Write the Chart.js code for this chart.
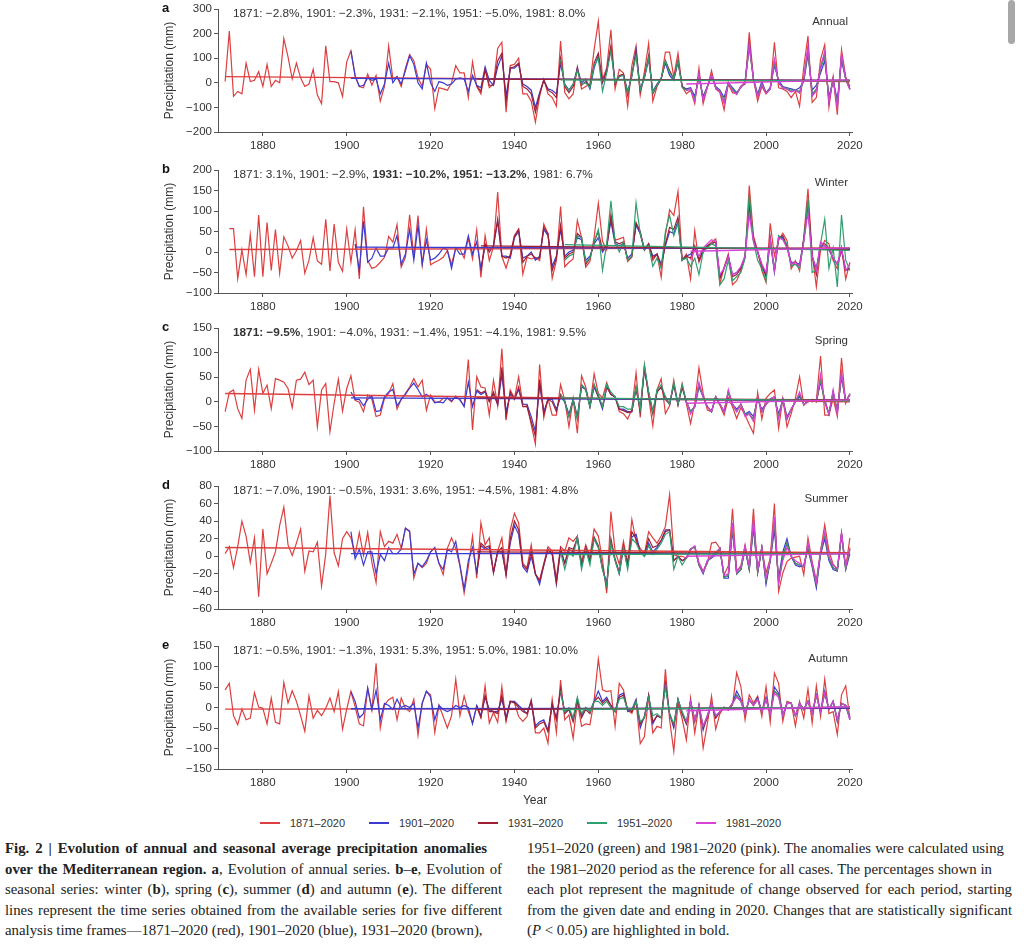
<!DOCTYPE html>
<html>
<head>
<meta charset="utf-8">
<script src="https://cdn.jsdelivr.net/npm/chart.js@4.4.1/dist/chart.umd.min.js"></script>
<style>
  body { margin: 0; background: #fff; }
  #page { position: relative; width: 1024px; height: 950px; overflow: hidden; background: #fff; font-family: "Liberation Sans", Arial, sans-serif; color: #333; }
  canvas { position: absolute; }
  .letter { position: absolute; font-weight: bold; font-size: 13px; line-height: 13px; color: #111; }
  .note { position: absolute; font-size: 11.8px; line-height: 14px; white-space: nowrap; color: #333; }
  .season { position: absolute; font-size: 11.5px; line-height: 14px; color: #333; text-align: right; }
  .leg { position: absolute; top: 816px; font-size: 11px; line-height: 14px; white-space: nowrap; color: #333; }
  .leg span.swatch { display: inline-block; width: 20px; height: 1.5px; vertical-align: middle; margin-right: 10px; position: relative; top: -1px; }
  .cap { position: absolute; font-family: "Liberation Serif", "Times New Roman", serif; font-size: 14.8px; line-height: 20.5px; color: #222; }
  .cap div { white-space: nowrap; text-align: justify; text-align-last: justify; }
  .cap div.last { text-align-last: left; }
  #scroll { position: absolute; left: 1008px; top: 0; width: 7px; height: 44px; border-radius: 4px; background: #a8a8a8; }
</style>
</head>
<body>
<div id="page">
  <div id="scroll"></div>
  <div id="legend"></div>
  <div class="cap" style="left:5px; top:838px;">
    <div style="width:482px"><b>Fig. 2 | Evolution of annual and seasonal average precipitation anomalies</b></div>
    <div style="width:497px"><b>over the Mediterranean region.</b> <b>a</b>, Evolution of annual series. <b>b</b>–<b>e</b>, Evolution of</div>
    <div style="width:497px">seasonal series: winter (<b>b</b>), spring (<b>c</b>), summer (<b>d</b>) and autumn (<b>e</b>). The different</div>
    <div style="width:497px">lines represent the time series obtained from the available series for five different</div>
    <div class="last">analysis time frames—1871–2020 (red), 1901–2020 (blue), 1931–2020 (brown),</div>
  </div>
  <div class="cap" style="left:527px; top:838px;">
    <div style="width:477px">1951–2020 (green) and 1981–2020 (pink). The anomalies were calculated using</div>
    <div style="width:465px">the 1981–2020 period as the reference for all cases. The percentages shown in</div>
    <div style="width:485px">each plot represent the magnitude of change observed for each period, starting</div>
    <div style="width:485px">from the given date and ending in 2020. Changes that are statistically significant</div>
    <div class="last">(<i>P</i> &lt; 0.05) are highlighted in bold.</div>
  </div>
</div>
<script>
// periods and legend
const periods = ['1871', '1901', '1931', '1951', '1981'];
const seriesNames = ['1871–2020', '1901–2020', '1931–2020', '1951–2020', '1981–2020'];
const seriesColors = ['#dd3f3f', '#3b3bd1', '#9e1f32', '#2e9f6e', '#d942d9'];
const yearTicks = [1880, 1900, 1920, 1940, 1960, 1980, 2000, 2020];
const firstYears = [1871, 1901, 1931, 1951, 1981];
const winterFirstYears = [1872, 1902, 1932, 1952, 1982];

// a: annual
const annualTicks = [-200, -100, 0, 100, 200, 300];
const annualRed = [
    5, 210, -55, -35, -45, 80, 5, 10, 45, -15,
    75, -15, 10, 0, 180, 105, 15, 80, 20, -15,
    -5, 55, -50, -85, 150, 5, 5, 0, -55, 85,
    130, 25, -15, -20, 35, -10, 30, -75, -15, 150,
    15, 25, -15, 60, 115, 90, 20, -15, 75, 55,
    -105, -20, -25, -30, 0, 70, 40, 40, -60, 85,
    -15, -45, 55, -20, -5, 140, 165, -120, 70, 75,
    100, -45, -45, -75, -160, -55, 15, -45, -60, -95,
    170, -40, -65, -45, 65, -25, -15, -5, 135, 250,
    15, 60, 215, -25, 55, 40, -95, 70, 150, -50,
    45, 160, -75, -15, 15, 125, 125, 25, 120, -15,
    -45, -30, -85, 60, -85, -20, 50, -25, -40, -110,
    -5, -40, -45, -15, -5, 205, 15, -75, -15, -45,
    -25, 165, -20, -25, -35, -60, -35, -95, 65, 190,
    -80, -60, 95, 155, -100, 25, -130, 135, 25, -15
];
const annualBlue = [
    130, 30, -15, -10, 20, 10, 15, -45, -5, 80,
    0, 25, -5, 50, 110, 75, 0, -25, 80, 0,
    -35, 5, 0, -10, -5, 15, 20, 15, -35, 30,
    -10, -20, 65, 10, -10, 65, 110, -55, 60, 60,
    75, -5, -15, -30, -100, -40, 10, -25, -30, -45,
    80, -5, -30, -5, 60, 0, 15, -25, 60, 110,
    0, 50, 140, 5, 25, 35, -35, 25, 135, -25,
    20, 95, -35, -5, 20, 80, 30, 10, 85, -15,
    -25, -20, -55, 25, -55, -15, 25, -15, -30, -60,
    0, -20, -40, -20, 5, 160, 15, -45, 5, -40,
    -20, 70, 10, -15, -20, -25, -30, -20, 5, 115,
    -30, -10, 40, 90, -55, 10, -70, 90, 15, -25
];
const annualBrown = [
    -12, -35, 55, -10, -10, 90, 120, -80, 60, 65,
    80, -15, -25, -45, -120, -45, 10, -30, -40, -60,
    100, -15, -40, -15, 55, -10, 5, -15, 80, 120,
    5, 45, 150, -5, 30, 35, -50, 35, 120, -35,
    25, 110, -45, -10, 15, 90, 50, 15, 90, -15,
    -30, -25, -70, 35, -70, -15, 30, -20, -35, -80,
    0, -30, -45, -15, 0, 150, 15, -55, -5, -40,
    -25, 90, 0, -20, -25, -35, -30, -40, 15, 140,
    -50, -30, 60, 120, -75, 15, -95, 110, 15, -25
];
const annualGreen = [
    95, -10, -30, -5, 50, -5, 0, -20, 70, 100,
    -35, 40, 130, 0, 25, 30, -40, 30, 110, -30,
    20, 100, -40, -10, 20, 90, 40, 15, 90, -20,
    -30, -25, -65, 30, -65, -15, 30, -20, -35, -75,
    0, -25, -45, -15, 0, 145, 15, -50, -5, -40,
    -25, 85, 0, -20, -25, -30, -30, -35, 10, 130,
    -45, -25, 55, 110, -70, 15, -90, 105, 15, -25
];
const annualPink = [
    -32, -25, -75, 38, -72, -15, 32, -20, -38, -85,
    0, -32, -48, -15, 0, 155, 15, -58, -5, -42,
    -25, 95, 0, -22, -25, -38, -30, -42, 18, 150,
    -55, -32, 65, 128, -80, 18, -105, 118, 15, -28
];
const annualTrendStart = [25, 18, 15, 12, -5];
const annualTrendEnd = [5, 10, 10, 8, 12];
const annualChange = ['−2.8%', '−2.3%', '−2.1%', '−5.0%', '8.0%'];
const annualSig = [false, false, false, false, false];

// b: winter
const winterTicks = [-100, -50, 0, 50, 100, 150, 200];
const winterRed = [
    57, 57, -65, 5, -55, 43, -60, 90, -60,
    72, -45, 55, -52, 37, 15, -15, 3, 28, -52,
    -20, 35, -22, -30, 80, -46, 68, -25, -47, 56,
    -25, 54, -66, 110, -21, -40, -36, -25, -13, 38,
    24, 67, -37, -13, 91, -13, 89, -31, 56, -31,
    -25, -20, -13, 3, -30, 10, 7, -15, 34, -17,
    54, -62, 40, -21, 13, 146, -11, -39, -5, 40,
    56, -54, -13, -17, -13, -21, 68, 44, -64, -21,
    111, -36, -25, -17, 77, 36, -37, -23, 36, 119,
    26, 5, 93, 29, 32, 36, -23, -13, 72, 44,
    5, 20, -21, -5, -62, 42, 103, 89, 148, -20,
    -5, -66, 52, -25, -1, 15, 24, 32, -78, -37,
    -5, -80, -70, -46, -13, 162, 40, 2, -46, -74,
    70, -9, 28, 46, 28, -41, -21, -46, 36, 154,
    -5, -85, 5, 28, 20, -21, -41, 11, -66, -25
];
const winterBlue = [
    20, -45, 75, -25, -15, 10, -10, -10, 10,
    10, 40, -30, -5, 55, -20, 65, -30, 30, -20,
    -15, -5, 10, 5, -40, 10, -5, -5, 40, -5,
    25, -40, 15, 5, 15, 75, -10, -10, -15, 35,
    50, -15, -10, 0, -20, -10, 55, 40, -35, -10,
    55, -10, 0, 5, 35, 30, -20, -10, 20, 35,
    0, 15, 75, 20, 15, 20, -15, -5, 65, 45,
    5, 20, -10, -5, -30, 15, 50, 45, 75, -20,
    -10, -5, 10, -20, 5, 15, 20, 25, -60, -40,
    -10, -55, -50, -40, -10, 110, 30, 0, -30, -55,
    30, -50, 35, 35, 10, -25, -25, -30, 30, 110,
    -10, -40, 15, 15, 5, -15, -30, 5, -45, -40
];
const winterBrown = [
    -45, 20, 0, 15, 80, -10, -15, -10, 38,
    55, -25, -10, -5, -15, -15, 60, 45, -45, -15,
    65, -15, -5, 0, 45, 35, -30, -15, 25, 50,
    5, 15, 85, 25, 20, 25, -20, -10, 70, 50,
    5, 20, -15, -5, -35, 20, 60, 55, 85, -20,
    -10, -15, 15, -20, 5, 15, 20, 25, -65, -40,
    -10, -60, -55, -40, -10, 125, 30, 0, -35, -60,
    35, -45, 35, 40, 15, -30, -25, -35, 30, 125,
    -10, -55, 20, 20, 10, -15, -30, 5, -45, -40
];
const winterGreen = [
    -20, -10, -5, 40, 35, -25, -15, 25, 55,
    -45, 20, 125, 25, 0, 25, -20, -10, 120, 45,
    5, 15, -35, -15, -40, 50, 90, 40, 70, -20,
    -15, -35, -15, -55, 0, 10, 20, 15, -80, -65,
    -20, -70, -60, -50, -15, 140, 25, -20, -40, -70,
    25, -45, 40, 30, 20, -35, -30, -40, 25, 130,
    -50, -45, 20, 80, -40, 10, -85, 90, -20, -45
];
const winterPink = [
    -20, 5, -10, 10, 20, 30, 25, -55, -40,
    -10, -55, -50, -35, -10, 90, 25, 0, -30, -50,
    30, -45, 35, 30, 10, -30, -25, -35, 25, 95,
    -10, -45, 25, 15, 10, -15, -30, 10, -45, -30
];
const winterTrendStart = [6, 12, 15, 18, 2];
const winterTrendEnd = [10, 8, 6, 4, 10];
const winterChange = ['3.1%', '−2.9%', '−10.2%', '−13.2%', '6.7%'];
const winterSig = [false, false, true, true, false];

// c: spring
const springTicks = [-100, -50, 0, 50, 100, 150];
const springRed = [
    -20, 19, 24, -14, -34, 44, 66, -17, 66, 17,
    34, -14, 47, 44, 40, 27, -12, 44, 46, 60,
    35, 44, -51, 24, 37, -61, -3, 46, -19, 27,
    53, 3, -1, -20, 14, 5, -30, -27, 7, 17,
    37, -15, 5, 17, 30, 47, 30, 44, -17, 14,
    0, -1, 7, 7, 0, 12, 3, -8, 86, -57,
    51, 30, 28, -27, 44, -8, 108, -37, 24, 7,
    51, -5, -7, -47, -86, 76, -32, 7, -27, -27,
    35, 3, -51, 7, -64, 53, 30, -8, 57, 17,
    8, 39, 15, 10, -20, -24, -35, -15, 59, -32,
    74, 10, -49, 24, 47, -24, -8, 44, -7, 37,
    -3, -44, -3, 69, 17, -17, -20, 10, -7, -27,
    8, -10, -34, -12, -27, -46, -64, 19, -35, 7,
    17, 24, -54, 7, -51, -24, 7, 51, -7, 3,
    0, 3, 93, -27, -27, 7, -30, 89, -3, 17
];
const springBlue = [
    20, 5, 5, -8, 5, 12, -20, -18, 10, 20,
    25, -8, 5, 15, 28, 38, 25, 10, 15, 10,
    -2, 0, -2, 8, 2, 10, 5, -10, 40, -10,
    22, 15, 20, 2, 15, -5, 55, -20, 15, 5,
    25, -5, -5, -30, -60, 35, -20, 5, 5, -15,
    10, 0, -25, 5, -30, 30, 25, -10, 30, 10,
    -15, 30, 15, 10, -15, -15, -20, -20, 25, -15,
    65, 20, -20, 20, 30, 10, -5, 35, -5, 30,
    0, -20, -10, 30, 10, -10, -20, 10, -5, -20,
    20, -5, -15, -5, -25, -20, -30, 5, -15, -5,
    5, 10, -25, 5, -30, -15, 0, 10, -5, 0,
    5, 0, 40, 5, -25, 20, -20, 50, 0, 15
];
const springBrown = [
    25, 18, 22, 0, 20, -5, 70, -30, 20, 5,
    30, -10, -10, -40, -70, 45, -25, 5, 0, -20,
    15, 0, -30, 5, -35, 35, 25, -10, 35, 10,
    -10, 30, 15, 10, -15, -18, -22, -20, 30, -20,
    70, 15, -25, 20, 30, 5, -5, 35, -5, 30,
    0, -20, -10, 35, 10, -10, -20, 10, -5, -20,
    20, -5, -20, -5, -25, -25, -35, 10, -20, -5,
    5, 10, -30, 5, -35, -15, 0, 15, -5, 0,
    5, 0, 45, 0, -25, 20, -20, 55, 0, 15
];
const springGreen = [
    15, 0, -30, 5, -35, 35, 25, -10, 35, 15,
    -10, 35, 20, 10, -10, -10, -15, -15, 30, -15,
    75, 20, -20, 25, 35, 10, -5, 40, -5, 35,
    0, -20, -10, 35, 10, -10, -20, 10, -5, -20,
    20, -5, -20, -5, -25, -25, -35, 10, -20, -5,
    5, 10, -30, 5, -35, -15, 0, 15, -5, 0,
    5, 0, 45, 0, -25, 20, -20, 55, 0, 15
];
const springPink = [
    0, -25, -10, 40, 10, -10, -20, 10, -5, -20,
    25, -5, -20, -5, -30, -25, -40, 10, -20, -5,
    5, 10, -35, 5, -35, -15, 0, 20, -5, 0,
    5, 0, 55, 0, -25, 25, -25, 60, 0, 15
];
const springTrendStart = [17, 8, 8, 8, -3];
const springTrendEnd = [0, 3, 4, 2, 4];
const springChange = ['−9.5%', '−4.0%', '−1.4%', '−4.1%', '9.5%'];
const springSig = [true, false, false, false, false];

// d: summer
const summerTicks = [-60, -40, -20, 0, 20, 40, 60, 80];
const summerRed = [
    3, 11, -13, 11, 40, 23, -7, 21, -46, 31,
    -20, -8, 5, 35, 56, 13, 1, 15, 31, -17,
    6, 5, 16, -34, 3, 69, 4, -11, 20, 28,
    21, 1, 27, 1, 27, -7, -30, 28, 11, 17,
    15, 25, 9, 32, 29, -25, -8, -13, -8, 5,
    9, -8, -21, 9, 21, 9, -11, -42, -12, 23,
    -25, 38, 13, 21, -19, 6, 21, -19, 30, 49,
    38, -8, -13, 13, -21, -27, -8, 11, 6, -25,
    11, 6, 21, 17, 23, -6, 13, 0, 31, 23,
    -4, -42, 51, 6, -9, 17, -8, 42, 17, 9,
    3, 28, 21, 15, 23, 34, 70, 2, 0, 0,
    -2, 8, 11, -7, -17, -8, 15, 16, 9, -21,
    -11, 54, -17, -11, 13, -13, 54, -19, 9, -19,
    -2, 60, -40, -19, -6, -2, -1, 0, -21, 21,
    -6, -28, 6, 36, 6, -9, -15, 27, -13, 21
];
const summerBlue = [
    28, -3, 8, -10, 5, 5, -20, 2, -5, 10,
    3, 3, 8, 32, 28, -20, -8, -12, -5, 5,
    10, -8, -15, 8, 5, 17, -10, -37, -5, 10,
    -18, 12, 8, 10, -18, 5, 5, -20, 15, 35,
    25, -12, -18, 0, -20, -32, -10, 8, 2, -32,
    8, -8, 8, 5, 22, -12, 10, -5, 20, 10,
    -15, -30, 15, -5, -20, 10, -12, 22, 25, 5,
    0, 15, 5, 10, 18, 30, 30, -5, 0, -5,
    -2, 8, 11, -10, -20, -5, -2, 2, 9, -25,
    -25, 30, -20, -15, 8, -15, 32, -18, 10, -32,
    -5, 30, -25, 5, 20, 0, -10, -12, -10, 8,
    -12, -36, 2, 20, -5, -15, -17, 25, -15, 3
];
const summerBrown = [
    -20, 15, 10, 12, -18, 5, 10, -22, 20, 40,
    30, -10, -15, 5, -20, -28, -10, 8, 3, -30,
    8, -8, 10, 8, 20, -10, 10, -5, 22, 12,
    -12, -35, 20, -3, -18, 12, -10, 28, 20, 5,
    2, 20, 10, 12, 18, 28, 30, -5, 0, -5,
    -2, 8, 11, -10, -18, -6, 0, 3, 9, -24,
    -22, 35, -20, -15, 10, -15, 38, -18, 10, -28,
    -5, 40, -30, 0, 15, 0, -8, -10, -12, 12,
    -10, -32, 4, 25, -2, -13, -16, 25, -14, 8
];
const summerGreen = [
    5, -15, 5, 0, 22, -15, 8, -10, 20, 10,
    -15, -33, 15, -5, -20, 10, -15, 20, 15, 5,
    0, 12, 2, 8, 15, 25, 28, -15, 0, -10,
    -2, 8, 11, -10, -18, -6, 0, 3, 9, -24,
    -22, 35, -20, -15, 10, -15, 38, -18, 10, -28,
    -5, 40, -30, 0, 15, 0, -8, -10, -12, 12,
    -10, -32, 4, 25, -2, -13, -16, 25, -14, 8
];
const summerPink = [
    -2, 8, 12, -8, -18, -5, 0, 5, 9, -22,
    -20, 38, -18, -12, 12, -12, 42, -15, 10, -25,
    -3, 45, -30, -5, 10, 0, -5, -8, -12, 15,
    -8, -30, 6, 28, 0, -10, -14, 27, -12, 10
];
const summerTrendStart = [10, 3, 5, 2, 0];
const summerTrendEnd = [4, 3, 3, 3, 3];
const summerChange = ['−7.0%', '−0.5%', '3.6%', '−4.5%', '4.8%'];
const summerSig = [false, false, false, false, false];

// e: autumn
const autumnTicks = [-150, -100, -50, 0, 50, 100, 150];
const autumnRed = [
    43, 59, -20, -42, -4, -30, -26, 36, 1, -2,
    -40, 23, -36, -40, 61, 11, 41, 15, -20, -58,
    28, -26, -7, -20, -2, 23, -10, 39, -53, -4,
    39, 2, -40, -45, 47, -6, 108, -50, 6, 19,
    25, -30, 23, -2, -10, 20, -68, 11, 39, 31,
    -61, 6, -22, -50, -20, 69, -20, 28, -10, -38,
    2, -24, 53, -38, -12, -36, 51, -34, 15, 11,
    -22, -34, -22, 19, -62, -62, -50, -87, 20, -61,
    67, -30, -18, -75, 15, -46, -40, -42, 17, 118,
    43, 39, 41, -46, 59, 43, -7, -14, 15, -88,
    -71, 28, -62, -46, -50, 93, -30, -107, 11, -28,
    -79, 23, -62, 6, -99, -40, 28, -53, -15, 1,
    -7, 6, 85, 51, -30, 31, 11, 28, -22, 51,
    -36, 84, 59, -34, 15, 11, -45, 15, -26, 45,
    -38, 53, -22, 69, -15, -10, -66, 31, 53, -28
];
const autumnBlue = [
    39, 15, -25, -15, 47, -5, 42, -30, 10, 5,
    -5, 20, 0, 5, 0, 10, -50, 10, 40, 25,
    -30, 5, -5, -10, -5, 5, 0, 5, 0, -40,
    5, -20, 25, -5, -10, -10, 20, -25, 15, 15,
    5, -5, -15, 15, -45, -35, -30, -55, 5, -25,
    40, -10, -5, -30, 20, -20, 0, -10, 15, 40,
    15, 25, 5, -10, 30, 35, -10, -5, 20, -50,
    -20, 30, -40, -20, -25, 60, -15, -50, 20, -15,
    -40, 15, -30, 5, -55, -20, 10, -25, -10, 0,
    -5, 10, 40, 20, -15, 20, 5, 25, -10, 25,
    -15, 50, 35, -20, 10, 10, -20, 10, -5, 15,
    -15, 30, -10, 40, -5, 15, -35, 10, 5, -30
];
const autumnBrown = [
    5, -25, 30, -10, -10, -15, 30, -30, 15, 12,
    0, -10, -15, 15, -50, -40, -35, -60, 10, -30,
    45, -15, -5, -35, 20, -25, -5, -15, 15, 25,
    10, 20, 5, -10, 25, 30, -5, -10, 15, -40,
    -25, 30, -35, -20, -25, 55, -15, -45, 20, -15,
    -40, 15, -35, 5, -50, -25, 10, -25, -10, 0,
    -5, 10, 30, 15, -15, 20, 5, 20, -10, 20,
    -15, 40, 30, -20, 10, 10, -20, 10, -5, 15,
    -15, 30, -10, 35, -5, 15, -30, 10, 5, -25
];
const autumnGreen = [
    40, -10, 0, -25, 25, -15, 0, -10, 15, 15,
    5, 15, 0, -10, 20, 25, -5, -5, 15, -35,
    -25, 25, -20, -15, -25, 50, -15, -40, 20, -10,
    -35, 15, -30, 5, -45, -20, 10, -20, -10, 0,
    -5, 10, 30, 15, -15, 20, 5, 20, -10, 20,
    -15, 40, 30, -20, 10, 10, -20, 10, -5, 15,
    -15, 30, -10, 35, -5, 15, -30, 10, 5, -25
];
const autumnPink = [
    -35, 15, -30, 5, -45, -20, 10, -20, -10, 0,
    -5, 10, 25, 15, -15, 20, 5, 20, -10, 20,
    -15, 35, 25, -20, 10, 10, -20, 10, -5, 15,
    -15, 30, -10, 35, -5, 15, -30, 10, 5, -30
];
const autumnTrendStart = [-4, -3, -5, -5, -8];
const autumnTrendEnd = [-2, -2, 0, 1, 2];
const autumnChange = ['−0.5%', '−1.3%', '5.3%', '5.0%', '10.0%'];
const autumnSig = [false, false, false, false, false];

const panels = [
    { letter: 'a', name: 'Annual', min: -200, max: 300, ticks: annualTicks, first: firstYears,
      series: [annualRed, annualBlue, annualBrown, annualGreen, annualPink],
      trendStart: annualTrendStart, trendEnd: annualTrendEnd, change: annualChange, sig: annualSig },
    { letter: 'b', name: 'Winter', min: -100, max: 200, ticks: winterTicks, first: winterFirstYears,
      series: [winterRed, winterBlue, winterBrown, winterGreen, winterPink],
      trendStart: winterTrendStart, trendEnd: winterTrendEnd, change: winterChange, sig: winterSig },
    { letter: 'c', name: 'Spring', min: -100, max: 150, ticks: springTicks, first: firstYears,
      series: [springRed, springBlue, springBrown, springGreen, springPink],
      trendStart: springTrendStart, trendEnd: springTrendEnd, change: springChange, sig: springSig },
    { letter: 'd', name: 'Summer', min: -60, max: 80, ticks: summerTicks, first: firstYears,
      series: [summerRed, summerBlue, summerBrown, summerGreen, summerPink],
      trendStart: summerTrendStart, trendEnd: summerTrendEnd, change: summerChange, sig: summerSig },
    { letter: 'e', name: 'Autumn', min: -150, max: 150, ticks: autumnTicks, first: firstYears,
      series: [autumnRed, autumnBlue, autumnBrown, autumnGreen, autumnPink],
      trendStart: autumnTrendStart, trendEnd: autumnTrendEnd, change: autumnChange, sig: autumnSig }
];

// layout (px)
const plotTops = [9, 170, 328, 486, 646];
const padTop = 9, plotH = 123, yAxisW = 60, canvasLeft = 158, canvasW = 712;

const page = document.getElementById('page');
const axisColor = '#555';
const textColor = '#333';

function fmtTick(v) {
    return v < 0 ? '\u2212' + Math.abs(v) : String(v);
}

panels.forEach(function (p, k) {
    const last = k === panels.length - 1;
    const xAxisH = last ? 43 : 26;
    const canvas = document.createElement('canvas');
    canvas.width = canvasW;
    canvas.height = padTop + plotH + xAxisH;
    canvas.style.left = canvasLeft + 'px';
    canvas.style.top = (plotTops[k] - padTop) + 'px';
    page.appendChild(canvas);

    const datasets = [];
    p.series.forEach(function (vals, i) {
        datasets.push({
            data: vals.map(function (v, j) { return { x: p.first[i] + j, y: v }; }),
            borderColor: seriesColors[i],
            borderWidth: 1.2,
            pointRadius: 0,
            fill: false,
            order: 10 - i
        });
        datasets.push({
            data: [{ x: p.first[i], y: p.trendStart[i] }, { x: 2020, y: p.trendEnd[i] }],
            borderColor: seriesColors[i],
            borderWidth: 1.4,
            pointRadius: 0,
            fill: false,
            order: 5 - i
        });
    });

    new Chart(canvas.getContext('2d'), {
        type: 'line',
        data: { datasets: datasets },
        options: {
            responsive: false,
            animation: false,
            layout: { padding: { top: padTop, right: 18, left: 0, bottom: 0 } },
            plugins: { legend: { display: false }, tooltip: { enabled: false } },
            scales: {
                x: {
                    type: 'linear',
                    min: 1869.3,
                    max: 2020.5,
                    afterBuildTicks: function (s) { s.ticks = yearTicks.map(function (v) { return { value: v }; }); },
                    afterFit: function (s) { s.height = xAxisH; },
                    grid: { drawOnChartArea: false, drawTicks: true, tickLength: 4, color: axisColor },
                    border: { display: true, color: axisColor, width: 1 },
                    ticks: {
                        color: textColor, padding: 3, maxRotation: 0, autoSkip: false,
                        font: { family: 'Liberation Sans', size: 11.5 },
                        callback: function (v) { return String(v); }
                    },
                    title: {
                        display: last, text: 'Year', color: textColor, padding: { top: 4, bottom: 4 },
                        font: { family: 'Liberation Sans', size: 12 }
                    }
                },
                y: {
                    min: p.min,
                    max: p.max,
                    afterBuildTicks: function (s) { s.ticks = p.ticks.map(function (v) { return { value: v }; }); },
                    afterFit: function (s) { s.width = yAxisW; },
                    grid: { drawOnChartArea: false, drawTicks: true, tickLength: 4, color: axisColor },
                    border: { display: true, color: axisColor, width: 1 },
                    ticks: {
                        color: textColor, padding: 2, autoSkip: false,
                        font: { family: 'Liberation Sans', size: 11.5 },
                        callback: fmtTick
                    },
                    title: {
                        display: true, text: 'Precipitation (mm)', color: textColor, padding: { top: 4, bottom: 4 },
                        font: { family: 'Liberation Sans', size: 12 }
                    }
                }
            }
        }
    });

    // panel letter, change note, season label
    const letter = document.createElement('div');
    letter.className = 'letter';
    letter.textContent = p.letter;
    letter.style.left = '162px';
    letter.style.top = (plotTops[k] - 8) + 'px';
    page.appendChild(letter);

    const note = document.createElement('div');
    note.className = 'note';
    note.style.left = '233px';
    note.style.top = (plotTops[k] - 3) + 'px';
    periods.forEach(function (per, i) {
        const part = document.createElement(p.sig[i] ? 'b' : 'span');
        part.textContent = per + ': ' + p.change[i];
        note.appendChild(part);
        if (i < periods.length - 1) {
            const sep = document.createElement(p.sig[i] && p.sig[i + 1] ? 'b' : 'span');
            sep.textContent = ', ';
            note.appendChild(sep);
        }
    });
    page.appendChild(note);

    const season = document.createElement('div');
    season.className = 'season';
    season.textContent = p.name;
    season.style.right = (1024 - 848) + 'px';
    season.style.top = (plotTops[k] + 5) + 'px';
    page.appendChild(season);
});

// legend
const legendLefts = [260, 369, 478, 587, 696];
const legend = document.getElementById('legend');
seriesNames.forEach(function (name, i) {
    const item = document.createElement('div');
    item.className = 'leg';
    item.style.left = legendLefts[i] + 'px';
    const swatch = document.createElement('span');
    swatch.className = 'swatch';
    swatch.style.backgroundColor = seriesColors[i];
    item.appendChild(swatch);
    item.appendChild(document.createTextNode(name));
    legend.appendChild(item);
});
</script>
</body>
</html>
